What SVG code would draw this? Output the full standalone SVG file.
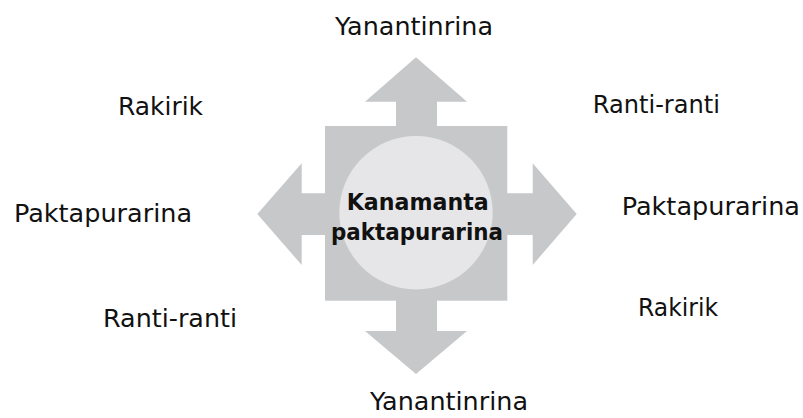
<svg xmlns="http://www.w3.org/2000/svg" width="803" height="418" viewBox="0 0 803 418">
  <style>
    .arrow { fill: #c7c8ca; }
    .hub { fill: #c7c8ca; }
    .core { fill: #e6e6e8; }
    .lbl { font-family: "DejaVu Sans", "Liberation Sans", sans-serif; font-size: 24px; fill: #111; }
    .ctr { font-family: "DejaVu Sans", "Liberation Sans", sans-serif; font-size: 23px; font-weight: bold; fill: #111; }
  </style>
  <rect width="803" height="418" fill="#ffffff"/>

  <!-- four block arrows leaving the central square -->
  <g id="connectors">
    <polygon class="arrow" points="396,127 396,101.7 365,101.7 416,57.3 467,101.7 437,101.7 437,127"/>
    <polygon class="arrow" points="396,300 396,331 365,331 416,374 467,331 437,331 437,300"/>
    <polygon class="arrow" points="326,193.3 301.7,193.3 301.7,163.3 257.3,214 301.7,265 301.7,235 326,235"/>
    <polygon class="arrow" points="506,193.3 532.7,193.3 532.7,163.3 576.7,214 532.7,265 532.7,235 506,235"/>
  </g>

  <!-- central node -->
  <g id="center">
    <rect class="hub" x="325" y="126" width="182.3" height="174.7"/>
    <circle class="core" cx="416" cy="212.7" r="76.7"/>
    <text class="ctr" x="346.7" y="210" textLength="142" lengthAdjust="spacingAndGlyphs">Kanamanta</text>
    <text class="ctr" x="331" y="240" textLength="172" lengthAdjust="spacingAndGlyphs">paktapurarina</text>
  </g>

  <!-- outer labels -->
  <g id="top-label"><text class="lbl" x="335" y="35" textLength="158" lengthAdjust="spacingAndGlyphs">Yanantinrina</text></g>
  <g id="bottom-label"><text class="lbl" x="370" y="410" textLength="158" lengthAdjust="spacingAndGlyphs">Yanantinrina</text></g>
  <g id="left-top"><text class="lbl" x="118" y="115" textLength="85" lengthAdjust="spacingAndGlyphs">Rakirik</text></g>
  <g id="left-mid"><text class="lbl" x="14" y="221.5" textLength="178" lengthAdjust="spacingAndGlyphs">Paktapurarina</text></g>
  <g id="left-bottom"><text class="lbl" x="103" y="327" textLength="134" lengthAdjust="spacingAndGlyphs">Ranti-ranti</text></g>
  <g id="right-top"><text class="lbl" x="592.7" y="113.3" textLength="127.3" lengthAdjust="spacingAndGlyphs">Ranti-ranti</text></g>
  <g id="right-mid"><text class="lbl" x="621.7" y="215" textLength="178.3" lengthAdjust="spacingAndGlyphs">Paktapurarina</text></g>
  <g id="right-bottom"><text class="lbl" x="638" y="316" textLength="80" lengthAdjust="spacingAndGlyphs">Rakirik</text></g>
</svg>
